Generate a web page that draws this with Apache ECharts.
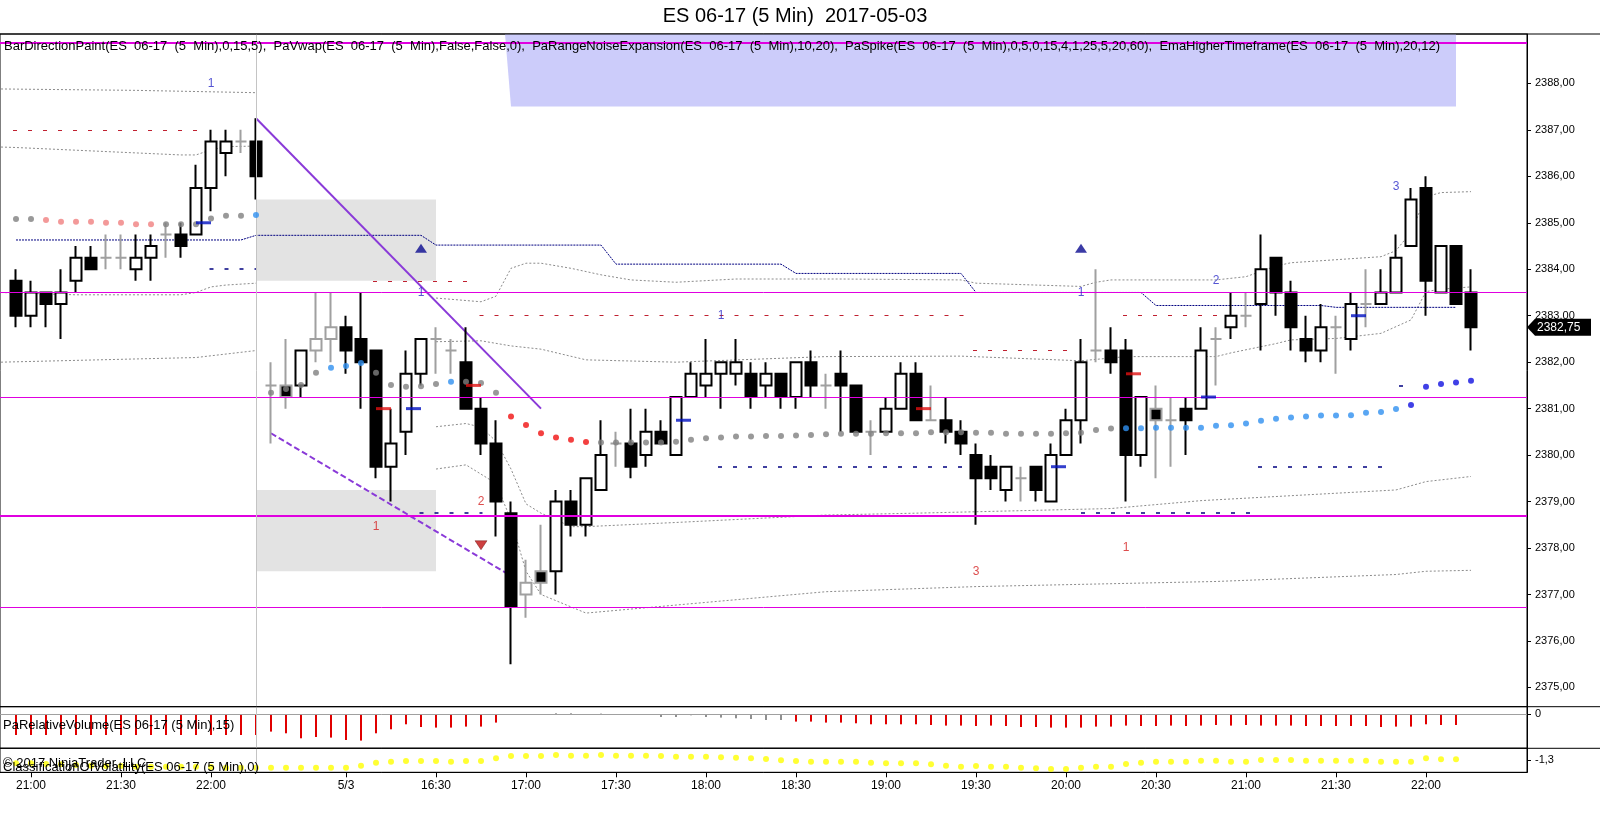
<!DOCTYPE html>
<html><head><meta charset="utf-8">
<script src="https://cdn.jsdelivr.net/npm/echarts@6/dist/echarts.min.js"></script>
<style>html,body{margin:0;padding:0;background:#fff}#c{width:1600px;height:828px}</style>
</head><body><div id="c"></div>
<script>
// ---------- DATA ----------
const times = ['20:55','21:00','21:05','21:10','21:15','21:20','21:25','21:30','21:35','21:40','21:45','21:50','21:55','22:00','22:05','22:10','22:15',
'15:35','15:40','15:45','15:50','15:55','16:00','16:05','16:10','16:15','16:20','16:25','16:30','16:35','16:40','16:45','16:50','16:55',
'17:00','17:05','17:10','17:15','17:20','17:25','17:30','17:35','17:40','17:45','17:50','17:55',
'18:00','18:05','18:10','18:15','18:20','18:25','18:30','18:35','18:40','18:45','18:50','18:55',
'19:00','19:05','19:10','19:15','19:20','19:25','19:30','19:35','19:40','19:45','19:50','19:55',
'20:00','20:05','20:10','20:15','20:20','20:25','20:30','20:35','20:40','20:45','20:50','20:55',
'21:00','21:05','21:10','21:15','21:20','21:25','21:30','21:35','21:40','21:45','21:50','21:55',
'22:00','22:05','22:10','22:15'];
const opens = [2383.75,2383.0,2383.5,2383.25,2383.75,2384.25,2384.25,2384.25,2384.0,2384.25,2384.75,2384.75,2384.75,2385.75,2386.5,2386.75,2386.75,
2381.5,2381.5,2381.5,2382.25,2382.5,2382.75,2382.5,2382.25,2379.75,2380.5,2381.75,2382.5,2382.25,2382.0,2381.0,2380.25,2378.75,
2377.0,2377.5,2377.5,2379.0,2378.5,2379.25,2380.25,2380.25,2380.0,2380.5,2380.0,2381.25,
2381.5,2381.75,2381.75,2381.75,2381.5,2381.75,2381.25,2382.0,2381.5,2381.75,2381.5,2380.5,
2380.5,2381.0,2381.75,2380.75,2380.75,2380.5,2380.0,2379.75,2379.25,2379.5,2379.75,2379.0,
2380.0,2380.75,2382.25,2382.25,2382.25,2380.0,2381.0,2380.75,2381.0,2381.0,2382.5,2382.75,
2383.0,2383.25,2384.25,2383.5,2382.5,2382.25,2382.75,2382.5,2383.25,2383.25,2383.5,2384.5,
2385.75,2383.5,2384.5,2383.5];
const highs = [2384.0,2383.75,2383.5,2384.0,2384.5,2384.5,2384.75,2384.75,2384.75,2384.75,2385.0,2385.0,2386.25,2387.0,2387.0,2387.0,2387.25,
2382.0,2382.5,2382.25,2383.5,2383.5,2383.0,2383.5,2382.25,2381.0,2382.25,2382.5,2382.75,2382.5,2382.75,2381.25,2380.75,2379.0,
2377.75,2378.5,2379.25,2379.25,2379.5,2380.75,2380.5,2381.0,2381.0,2380.75,2381.25,2382.0,
2382.5,2382.0,2382.5,2382.0,2382.0,2381.75,2382.0,2382.25,2381.75,2382.25,2381.5,2380.75,
2381.25,2382.0,2382.0,2381.5,2381.25,2380.75,2380.25,2380.0,2379.75,2379.75,2379.75,2380.25,
2381.0,2382.5,2384.0,2382.75,2382.5,2381.25,2381.5,2381.25,2381.25,2382.75,2382.75,2383.5,
2383.5,2384.75,2384.25,2383.75,2383.0,2383.25,2383.0,2383.5,2384.0,2384.0,2384.75,2385.75,
2386.0,2384.5,2384.5,2384.0];
const lows = [2382.75,2382.75,2382.75,2382.5,2383.5,2384.0,2384.0,2384.0,2383.75,2383.75,2384.25,2384.25,2384.75,2385.25,2386.0,2386.5,2385.5,
2380.25,2381.0,2381.25,2382.0,2382.0,2381.75,2381.0,2379.5,2379.0,2380.0,2381.5,2381.75,2381.75,2381.0,2380.0,2378.25,2375.5,
2376.5,2377.0,2377.0,2378.25,2378.25,2379.25,2379.75,2379.5,2379.75,2380.25,2380.0,2381.25,
2381.25,2381.0,2381.5,2381.0,2381.25,2381.0,2381.0,2381.25,2381.0,2380.5,2380.5,2380.0,
2380.5,2381.0,2380.75,2380.75,2380.25,2380.0,2378.5,2379.25,2379.0,2379.0,2379.0,2379.0,
2380.0,2380.25,2382.0,2381.75,2379.0,2379.75,2379.5,2379.75,2380.0,2381.0,2381.5,2382.5,
2382.75,2382.25,2383.0,2382.25,2382.0,2382.0,2381.75,2382.25,2382.75,2383.25,2383.5,2384.5,
2383.0,2383.5,2383.25,2382.25];
const closes = [2383.0,2383.5,2383.25,2383.5,2384.25,2384.0,2384.25,2384.25,2384.25,2384.5,2384.75,2384.5,2385.75,2386.75,2386.75,2386.75,2386.0,
2381.5,2381.25,2382.25,2382.5,2382.75,2382.25,2382.0,2379.75,2380.25,2381.75,2382.5,2382.5,2382.25,2381.0,2380.25,2379.0,2376.75,
2377.25,2377.25,2379.0,2378.5,2379.5,2380.0,2380.25,2379.75,2380.5,2380.25,2381.25,2381.75,
2381.75,2382.0,2382.0,2381.25,2381.75,2381.25,2382.0,2381.5,2381.5,2381.5,2380.5,2380.5,
2381.0,2381.75,2380.75,2380.75,2380.5,2380.25,2379.5,2379.5,2379.75,2379.5,2379.25,2380.0,
2380.75,2382.0,2382.25,2382.0,2380.0,2381.25,2380.75,2380.75,2380.75,2382.25,2382.5,2383.0,
2383.0,2384.0,2383.5,2382.75,2382.25,2382.75,2382.75,2383.25,2383.25,2383.5,2384.25,2385.5,
2383.75,2384.5,2383.25,2382.75];
// bars painted neutral (gray) by BarDirectionPaint
const neutralBars = [6,7,10,15,17,18,20,21,28,29,34,35,40,54,57,61,67,72,76,77,80,82,88,90];

// EmaHigherTimeframe dots and their state (n neutral, d/D down, u/U up)
const emaValues = [2385.08,2385.08,2385.06,2385.02,2385.02,2385.02,2385.0,2385.0,2384.97,2384.97,2384.97,2384.97,2384.97,2385.09,2385.15,2385.15,2385.17,
2381.34,2381.42,2381.51,2381.77,2381.88,2381.92,2381.98,2381.77,2381.51,2381.47,2381.48,2381.53,2381.58,2381.58,2381.55,2381.34,
2380.83,2380.65,2380.47,2380.38,2380.33,2380.28,
2380.27,2380.27,2380.27,2380.27,2380.27,
2380.29,2380.33,2380.36,2380.38,2380.40,2380.40,2380.41,2380.41,2380.42,2380.43,
2380.45,2380.46,2380.46,2380.46,2380.47,2380.47,2380.47,2380.49,2380.49,2380.49,
2380.48,2380.48,2380.46,2380.46,2380.46,2380.46,2380.47,2380.48,2380.54,2380.57,
2380.58,2380.58,2380.59,2380.59,2380.59,2380.59,2380.63,2380.64,2380.68,2380.74,
2380.78,2380.81,2380.83,2380.85,2380.85,2380.86,2380.91,2380.93,2380.99,2381.08,
2381.47,2381.53,2381.56,2381.60];
const emaState = 'nnddddddddnnnnnnu' + 'nnnnuuunnnnnunnnDDDDDDnnnnnnnnnnnnnnnnnnnnnnnnnnnnnnnnnnnuuuuuuuuuuuuuuuuuuuUUUUU';

// PaVwap
const vwap = [2384.63,2384.63,2384.63,2384.63,2384.63,2384.63,2384.63,2384.63,2384.63,2384.63,2384.63,2384.63,2384.63,2384.63,2384.63,2384.63,
2384.73,2384.73,2384.73,2384.73,2384.73,2384.73,2384.73,2384.73,2384.73,2384.73,2384.73,2384.73,
2384.52,2384.52,2384.52,2384.52,2384.52,2384.52,2384.52,2384.52,2384.52,2384.52,2384.52,2384.52,
2384.11,2384.11,2384.11,2384.11,2384.11,2384.11,2384.11,2384.11,2384.11,2384.11,2384.11,2384.11,
2383.91,2383.91,2383.91,2383.91,2383.91,2383.91,2383.91,2383.91,2383.91,2383.91,2383.91,2383.91,
2383.5,2383.5,2383.5,2383.5,2383.5,2383.5,2383.5,2383.5,2383.5,2383.5,2383.5,2383.5,
2383.22,2383.22,2383.22,2383.22,2383.22,2383.22,2383.22,2383.22,2383.22,2383.22,2383.22,2383.22,
2383.18,2383.18,2383.18,2383.18,2383.18,2383.18,2383.18,2383.18,2383.18,null];

// PaRangeNoiseExpansion bands, [bar index, price] samples
const s1Upper2 = [[-1,2387.88],[8,2387.85],[16,2387.8]];
const s1Upper1 = [[-1,2386.63],[0,2386.62],[11,2386.46],[12,2386.46],[13,2386.57],[14,2386.64],[16,2386.65]];
const s1Lower1 = [[-1,2383.5],[4,2383.45],[11,2383.45],[12,2383.5],[13,2383.62],[14,2383.66],[16,2383.7]];
const s1Lower2 = [[-1,2382.0],[12,2382.1],[16,2382.25]];
const s2Upper = [[28,2383.38],[31,2383.3],[32,2383.42],[33,2384.02],[34,2384.13],[35,2384.13],[37,2384.02],[39,2383.88],[41,2383.77],[44,2383.72],[48,2383.79],[55,2383.79],[63,2383.77],[64,2383.7],[71,2383.63],[72,2383.72],[73,2383.77],[80,2383.77],[82,2383.84],[84,2384.07],[85,2384.14],[91,2384.27],[92,2384.4],[93,2384.8],[94,2385.56],[95,2385.65],[97,2385.67]];
const s2Lower1 = [[28,2382.44],[31,2382.46],[33,2382.35],[35,2382.28],[38,2382.05],[44,2382.0],[54,2382.12],[63,2382.13],[71,2382.03],[74,2382.12],[80,2382.12],[81,2382.2],[84,2382.4],[85,2382.48],[88,2382.51],[91,2382.62],[93,2382.91],[94,2383.52],[95,2383.57],[97,2383.62]];
const s2Lower2 = [[28,2380.61],[30,2380.68],[31,2380.6],[32,2380.3],[33,2379.7],[34,2378.95],[35,2378.75],[37,2378.46],[38,2378.46],[44,2378.55],[54,2378.71],[60,2378.75],[73,2378.85],[79,2379.02],[92,2379.25],[94,2379.43],[97,2379.54]];
const s2Lower3 = [[28,2379.7],[30,2379.79],[32,2379.39],[33,2378.6],[34,2377.5],[35,2377.0],[38,2376.6],[54,2377.06],[64,2377.17],[80,2377.28],[92,2377.43],[94,2377.5],[97,2377.52]];

// horizontal levels
const magentaLevels = [2388.875, 2383.5, 2381.25, 2378.7, 2376.73];
const redLevels = [[-0.2,12.3,2387.0],[23.8,30.3,2383.75],[30.9,63.2,2383.0],[63.8,70.1,2382.25],[73.8,80.8,2383.0]];
const blueLevels = [[12.9,16.0,2384.0],[26.9,31.1,2378.75],[46.8,63.1,2379.75],[71.0,82.3,2378.75],[82.8,91.3,2379.75],[92.2,93.2,2381.5]];
const grayZones = [[16,28,2383.75,2385.5],[16,28,2377.5,2379.25]];
const blueZone = [33, 96, 2387.5];
const trendSolid = [[16,2387.25],[35,2381.0]];
const trendDashed = [[17,2380.47],[33,2377.4]];
const sessionBreak = 16;

// PaSpike marks (bar index where mark starts, price)
const spikeRed = [[24,2381.0],[30,2381.5],[60,2381.0],[74,2381.75]];
const spikeBlue = [[12,2385.0],[26,2381.0],[44,2380.75],[69,2379.75],[79,2381.25],[89,2383.0]];
const upTriangles = [[27,2384.45],[71,2384.45]];
const downTriangles = [[31,2378.06]];
const blueCounts = [[13,2388.0,'1'],[27,2383.5,'1'],[47,2383.0,'1'],[71,2383.5,'1'],[80,2383.75,'2'],[92,2385.78,'3']];
const redCounts = [[24,2378.46,'1'],[31,2378.99,'2'],[64,2377.5,'3'],[74,2378.0,'1']];

// lower panels
const relVolume = [-2.07,-2.07,-2.07,-2.07,-2.07,-2.07,-2.07,-2.07,-2.07,-2.07,-2.07,-2.07,-2.07,-2.07,-2.07,-2.07,-2.07,
-1.73,-1.9,-2.4,-2.27,-2.33,-2.57,-2.63,-1.9,-1.5,-1.0,-1.27,-1.33,-1.33,-1.23,-1.23,-0.83,
-0.07,-0.07,-0.03,0.1,0.1,-0.03,0.07,-0.03,-0.03,-0.03,-0.27,-0.27,-0.1,-0.27,-0.33,-0.4,-0.47,-0.57,-0.57,
-0.73,-0.73,-0.83,-0.83,-0.9,-1.0,-1.0,-1.0,-1.0,-1.07,-1.13,-1.13,-1.17,-1.13,-1.17,-1.27,-1.27,-1.33,-1.33,-1.33,
-1.23,-1.23,-1.13,-1.17,-1.17,-1.13,-1.17,-1.13,-1.07,-1.13,-1.07,-1.13,-1.13,-1.13,-1.17,-1.17,-1.17,-1.17,-1.17,
-1.27,-1.23,-1.23,-1.0,-1.07,-1.07];
const volatility = [-1.63,-1.63,-1.7,-1.73,-1.8,-1.87,-1.9,-1.9,-1.97,-1.97,-1.97,-1.97,-1.97,-2.0,-2.07,-2.07,-2.07,
-2.07,-2.07,-2.07,-2.07,-2.07,-2.07,-1.87,-1.57,-1.47,-1.4,-1.4,-1.4,-1.47,-1.4,-1.4,-1.13,
-0.9,-0.9,-0.9,-0.8,-0.87,-0.87,-0.8,-0.87,-0.87,-0.87,-0.9,-0.97,-0.97,-0.97,-1.03,-1.07,-1.13,-1.2,-1.33,
-1.4,-1.47,-1.47,-1.47,-1.47,-1.57,-1.63,-1.63,-1.63,-1.73,-1.87,-1.97,-1.9,-1.97,-1.97,-2.07,-2.13,-2.2,-2.2,-2.07,
-1.97,-1.97,-1.7,-1.57,-1.47,-1.47,-1.47,-1.37,-1.37,-1.47,-1.47,-1.3,-1.3,-1.3,-1.37,-1.37,-1.37,-1.37,-1.37,
-1.47,-1.47,-1.47,-1.13,-1.23,-1.23];

// axis ticks
const xTickIdx = [1,7,13,22,28,34,40,46,52,58,64,70,76,82,88,94];
const xTickText = ['21:00','21:30','22:00','5/3','16:30','17:00','17:30','18:00','18:30','19:00','19:30','20:00','20:30','21:00','21:30','22:00'];
const priceTicks = [2375,2376,2377,2378,2379,2380,2381,2382,2383,2384,2385,2386,2387,2388];

const headerText = 'BarDirectionPaint(ES  06-17  (5  Min),0,15,5),  PaVwap(ES  06-17  (5  Min),False,False,0),  PaRangeNoiseExpansion(ES  06-17  (5  Min),10,20),  PaSpike(ES  06-17  (5  Min),0,5,0,15,4,1,25,5,20,60),  EmaHigherTimeframe(ES  06-17  (5  Min),20,12)';

// ---------- CHART ----------
const FONT = '"Liberation Sans", Arial, sans-serif';
const X_MIN = -1.0667, X_MAX = 100.7333;
const Y_MIN = 2374.585, Y_MAX = 2389.063;
const PLOT_W = 1527;
const G0 = {top:34, h:672.7}, G1 = {top:706.7, h:41.6}, G2 = {top:748.3, h:24};
const fmt = v => v.toFixed(2).replace('.', ',');

const chart = echarts.init(document.getElementById('c'), null, {renderer:'canvas', width:1600, height:828});

const candleData = opens.map((o, i) => {
  const item = {value: [i, o, closes[i], lows[i], highs[i]]};
  if (neutralBars.includes(i)) {
    const fill = closes[i] >= o ? '#ffffff' : '#000000';
    item.itemStyle = {color: fill, color0: fill, borderColor: '#a0a0a0', borderColor0: '#a0a0a0', borderColorDoji: '#a0a0a0'};
  }
  return item;
});
const emaColors = {n:'#808080', d:'#f08080', D:'#f01010', u:'#3090f0', U:'#1010e0'};
const emaData = emaValues.map((v, i) => ({value:[i, v], itemStyle:{color: emaColors[emaState[i]]}}));

const xAxisBase = (gi) => ({type:'value', gridIndex:gi, min:X_MIN, max:X_MAX, axisLine:{show:false, onZero:false}, axisTick:{show:false}, axisLabel:{show:false}, splitLine:{show:false}});
const xAxis = [xAxisBase(0), xAxisBase(1), Object.assign(xAxisBase(2), {
  axisLine:{show:true, onZero:false, lineStyle:{color:'#000', width:1}},
  axisTick:{show:true, customValues:xTickIdx, length:5, lineStyle:{color:'#000'}},
  axisLabel:{show:true, customValues:xTickIdx, margin:7, fontSize:12, color:'#000', fontFamily:FONT,
    formatter: v => xTickText[xTickIdx.indexOf(Math.round(v))] || ''}
})];
const yAxisBase = (gi, mn, mx, ticks, f) => ({type:'value', gridIndex:gi, position:'right', min:mn, max:mx,
  axisLine:{show:true, onZero:false, lineStyle:{color:'#000', width:1}},
  axisTick:{show:true, inside:false, length:4, customValues:ticks, lineStyle:{color:'#000'}},
  axisLabel:{show:true, customValues:ticks, margin:8, fontSize:11, color:'#000', fontFamily:FONT, formatter:f},
  splitLine:{show:false}});
const yAxis = [
  yAxisBase(0, Y_MIN, Y_MAX, priceTicks, v => fmt(v)),
  yAxisBase(1, -3.4, 0.76, [0], v => '0'),
  yAxisBase(2, -2.53, -0.13, [-1.3], v => String(v).replace('.', ','))
];

const series = [];
// background: gray zones, magenta levels, session break
series.push({type:'line', xAxisIndex:0, yAxisIndex:0, data:[], z:1, silent:true,
  markArea:{silent:true, itemStyle:{color:'#e3e3e3'}, data: grayZones.map(z => [{coord:[z[0], z[3]]}, {coord:[z[1], z[2]]}])},
  markLine:{silent:true, symbol:['none','none'], label:{show:false}, animation:false,
    data: magentaLevels.map((v, k) => ({yAxis:v, lineStyle:{color:'#e000e0', width:(k === 0 || k === 3) ? 2 : 1, type:'solid'}}))
      .concat([{xAxis:sessionBreak, lineStyle:{color:'#c4c4c4', width:1, type:'solid'}}])}
});
// blue zone
series.push({type:'custom', xAxisIndex:0, yAxisIndex:0, z:1, silent:true, data:[blueZone],
  encode:{x:[0,1], y:2},
  renderItem:(params, api) => {
    const s = api.value(0), e = api.value(1), low = api.value(2);
    return {type:'polygon', shape:{points:[api.coord([s - 0.4, Y_MAX]), api.coord([s, low]), api.coord([e, low]), api.coord([e, Y_MAX])]}, style:{fill:'#ccccfa'}};
  }});
// bands
[s1Upper2, s1Upper1, s1Lower1, s1Lower2, s2Upper, s2Lower1, s2Lower2, s2Lower3].forEach(b => {
  series.push({type:'line', xAxisIndex:0, yAxisIndex:0, data:b, symbol:'none', z:2, silent:true,
    lineStyle:{color:'#8c8c8c', width:1, type:[2,2]}});
});
// dashed levels
series.push({type:'line', xAxisIndex:0, yAxisIndex:0, data:[], z:2, silent:true,
  markLine:{silent:true, symbol:['none','none'], label:{show:false}, animation:false,
    data: redLevels.map(l => [{coord:[l[0], l[2]], lineStyle:{color:'#c02030', width:1.2, type:[4,11]}}, {coord:[l[1], l[2]]}])
      .concat(blueLevels.map(l => [{coord:[l[0], l[2]], lineStyle:{color:'#000080', width:1.5, type:[4,11]}}, {coord:[l[1], l[2]]}]))}
});
// VWAP
series.push({type:'line', xAxisIndex:0, yAxisIndex:0, data: vwap.map((v, i) => [i, v]), symbol:'none', z:2, silent:true,
  lineStyle:{color:'#000080', width:1, type:[2,1]}});
// trend lines
series.push({type:'line', xAxisIndex:0, yAxisIndex:0, data:trendSolid, symbol:'none', z:3, silent:true, lineStyle:{color:'#8a3ad8', width:2}});
series.push({type:'line', xAxisIndex:0, yAxisIndex:0, data:trendDashed, symbol:'none', z:3, silent:true, lineStyle:{color:'#8a3ad8', width:2, type:[6,3]}});
// candles
series.push({type:'candlestick', xAxisIndex:0, yAxisIndex:0, data:candleData, barWidth:11, z:4, silent:true,
  itemStyle:{color:'#ffffff', color0:'#000000', borderColor:'#000000', borderColor0:'#000000', borderColorDoji:'#000000', borderWidth:2}});
// EMA dots
series.push({type:'scatter', xAxisIndex:0, yAxisIndex:0, data:emaData, symbol:'circle', symbolSize:6, z:5, silent:true});
// spike marks
series.push({type:'scatter', xAxisIndex:0, yAxisIndex:0, data:spikeRed.map(p => [p[0] + 0.5, p[1]]), symbol:'rect', symbolSize:[15,3], z:6, silent:true, itemStyle:{color:'#e01010'}});
series.push({type:'scatter', xAxisIndex:0, yAxisIndex:0, data:spikeBlue.map(p => [p[0] + 0.5, p[1]]), symbol:'rect', symbolSize:[15,3], z:6, silent:true, itemStyle:{color:'#0010c0'}});
// triangles
series.push({type:'scatter', xAxisIndex:0, yAxisIndex:0, data:upTriangles, symbol:'triangle', symbolSize:[12,9], z:6, silent:true, itemStyle:{color:'#0a0a90'}});
series.push({type:'scatter', xAxisIndex:0, yAxisIndex:0, data:downTriangles, symbol:'triangle', symbolRotate:180, symbolSize:[12,9], z:6, silent:true, itemStyle:{color:'#c01010', borderColor:'#600000', borderWidth:0.5}});
// count labels
const countSeries = (arr, color) => ({type:'scatter', xAxisIndex:0, yAxisIndex:0, data:arr.map(a => ({value:[a[0], a[1]], name:a[2]})),
  symbolSize:1, z:6, silent:true, itemStyle:{color:'rgba(0,0,0,0)'},
  label:{show:true, position:'inside', formatter: p => p.name, color: color, fontSize:12, fontFamily:FONT}});
series.push(countSeries(blueCounts, '#2a2ac8'));
series.push(countSeries(redCounts, '#d42020'));
// volume panel
series.push({type:'bar', xAxisIndex:1, yAxisIndex:1, barWidth:2, silent:true, z:3,
  data: relVolume.map((v, i) => ({value:[i, v], itemStyle:{color: Math.abs(v) >= 0.6 ? '#e00000' : '#909090'}})),
  markLine:{silent:true, symbol:['none','none'], label:{show:false}, animation:false,
    data:[{yAxis:0, lineStyle:{color:'#a0a0a0', width:1, type:'solid'}}, {xAxis:sessionBreak, lineStyle:{color:'#c4c4c4', width:1, type:'solid'}}]}});
// volatility panel
series.push({type:'scatter', xAxisIndex:2, yAxisIndex:2, data: volatility.map((v, i) => [i, v]), symbolSize:6, silent:true, z:3,
  itemStyle:{color:'#ffff00'},
  markLine:{silent:true, symbol:['none','none'], label:{show:false}, animation:false,
    data:[{xAxis:sessionBreak, lineStyle:{color:'#c4c4c4', width:1, type:'solid'}}]}});

const option = {
  animation:false,
  backgroundColor:'#ffffff',
  textStyle:{fontFamily:FONT},
  grid:[
    {left:0, top:G0.top, width:PLOT_W, height:G0.h, show:true, borderColor:'#000', borderWidth:1, backgroundColor:'#fff'},
    {left:0, top:G1.top, width:PLOT_W, height:G1.h, show:true, borderColor:'#000', borderWidth:1, backgroundColor:'#fff'},
    {left:0, top:G2.top, width:PLOT_W, height:G2.h, show:true, borderColor:'#000', borderWidth:1, backgroundColor:'#fff'}
  ],
  xAxis, yAxis, series,
  graphic:[
    {type:'line', z:100, shape:{x1:0, y1:G0.top, x2:1600, y2:G0.top}, style:{stroke:'#000', lineWidth:1}},
    {type:'line', z:100, shape:{x1:0, y1:G1.top, x2:1600, y2:G1.top}, style:{stroke:'#000', lineWidth:1}},
    {type:'line', z:100, shape:{x1:0, y1:G2.top, x2:1600, y2:G2.top}, style:{stroke:'#000', lineWidth:1}},
    {type:'text', z:100, x:795, y:16, style:{text:'ES 06-17 (5 Min)  2017-05-03', fontSize:20, fontFamily:FONT, fill:'#000', textAlign:'center', textVerticalAlign:'middle'}},
    {type:'text', z:100, x:4, y:46.5, style:{text:headerText, fontSize:13, fontFamily:FONT, fill:'#000', textAlign:'left', textVerticalAlign:'middle'}},
    {type:'text', z:100, x:3, y:725.5, style:{text:'PaRelativeVolume(ES 06-17 (5 Min),15)', fontSize:13, fontFamily:FONT, fill:'#000', textAlign:'left', textVerticalAlign:'middle'}},
    {type:'text', z:100, x:3, y:763.5, style:{text:'\u00A9 2017 NinjaTrader, LLC', fontSize:13, fontFamily:FONT, fill:'#000', textAlign:'left', textVerticalAlign:'middle'}},
    {type:'text', z:100, x:3, y:767.5, style:{text:'ClassificationOfVolatility(ES 06-17 (5 Min),0)', fontSize:13, fontFamily:FONT, fill:'#000', textAlign:'left', textVerticalAlign:'middle'}}
  ]
};
chart.setOption(option);

// last price tag on the price axis
const lastClose = closes[closes.length - 1];
const tip = chart.convertToPixel({gridIndex:0}, [X_MAX, lastClose]);
chart.setOption({graphic: option.graphic.concat([
  {type:'polygon', z:110, shape:{points:[[tip[0], tip[1]], [tip[0] + 8, tip[1] - 8.5], [tip[0] + 64, tip[1] - 8.5], [tip[0] + 64, tip[1] + 8.5], [tip[0] + 8, tip[1] + 8.5]]}, style:{fill:'#000'}},
  {type:'text', z:111, x:tip[0] + 10, y:tip[1], style:{text:fmt(lastClose), fontSize:12, fontFamily:FONT, fill:'#fff', textAlign:'left', textVerticalAlign:'middle'}}
])});
</script>
</body></html>
